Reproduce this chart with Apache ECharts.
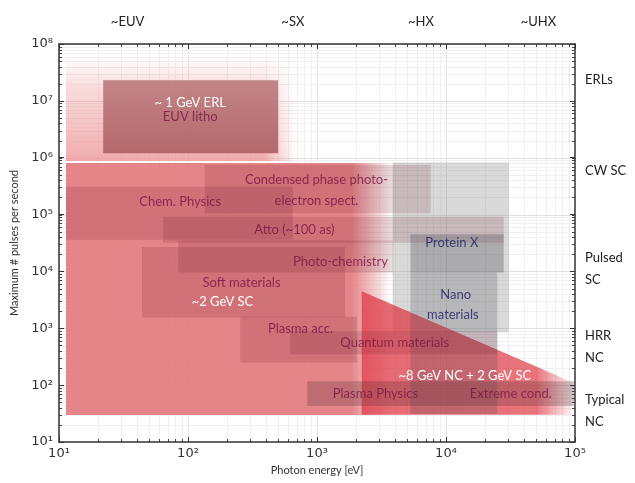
<!DOCTYPE html>
<html><head><meta charset="utf-8">
<script src="https://cdn.jsdelivr.net/npm/echarts@6/dist/echarts.min.js"></script>
<style>html,body{margin:0;padding:0;background:#fff}#c{width:635px;height:483px}</style>
</head><body><div id="c"></div>
<script>
// ---------------- data ----------------
const xTickLabels = ['10\u00b9','10\u00b2','10\u00b3','10\u2074','10\u2075'];
const yTickLabels = ['10\u00b9','10\u00b2','10\u00b3','10\u2074','10\u2075','10\u2076','10\u2077','10\u2078'];
const bandNames = ['~EUV','~SX','~HX','~UHX'];
const bandEnergy = [34, 650, 6400, 52000];
const machineNames = ['ERLs','CW SC','Pulsed\nSC','HRR\nNC','Typical\nNC'];
const machineRate = [2.3e7, 5.9e5, 1.13e4, 470, 35];

// facility envelopes (faded regions): energy range and pulse-rate range
const envNames = ['ERL envelope','SC/NC envelope'];
const envE0 = [11.3, 11.3];
const envE1 = [690, 3700];
const envR0 = [8.8e5, 30];
const envR1 = [5.2e7, 8.0e5];

// HX light band
const hxE = [3860, 30700];
const hxR = [850, 8.2e5];

// ~8 GeV NC + 2 GeV SC wedge (vertices)
const wedgeE = [2220, 100000, 100000, 2220];
const wedgeR = [4470, 108, 30, 30];

// application boxes
const boxNames = ['ERL','Condensed','Chem','Atto','PhotoChem','Protein','Soft','Nano','PlasmaAcc','Quantum','PlasmaPhys'];
const boxE0 = [22, 135, 11.3, 64, 84, 5300, 44, 5300, 255, 620, 840];
const boxE1 = [500, 7600, 650, 28000, 3900, 28000, 1650, 25000, 2050, 25000, 98000];
const boxR0 = [1.2e6, 1.05e5, 3.6e4, 3.2e4, 9.6e3, 9.6e3, 1550, 31, 250, 350, 43];
const boxR1 = [2.3e7, 7.5e5, 3.1e5, 9.2e4, 3.5e4, 4.5e4, 2.7e4, 9.6e3, 1600, 890, 117];

// text annotations
const noteText = ['~ 1 GeV ERL','EUV litho','Condensed phase photo-','electron spect.','Chem. Physics','Atto (~100 as)','Photo-chemistry','Protein X','Soft materials','~2 GeV SC','Nano','materials','Plasma acc.','Quantum materials','~8 GeV NC + 2 GeV SC','Plasma Physics','Extreme cond.'];
const noteE = [104, 104, 990, 990, 87, 668, 1520, 11100, 260, 185, 11900, 11300, 745, 4000, 14000, 2840, 31800];
const noteR = [9.2e6, 5.2e6, 4.1e5, 1.76e5, 1.7e5, 5.5e4, 1.5e4, 3.2e4, 6400, 2980, 3950, 1760, 960, 546, 144, 70, 70];
const noteKind = ['w','d','d','d','d','d','d','n','d','w','n','n','d','d','w','d','d'];

// ---------------- styles ----------------
const boxFill = {
  ERL: null,
  Protein: 'rgba(70,70,80,0.30)',
  Nano: 'rgba(70,70,80,0.22)',
  PlasmaPhys: 'rgba(90,45,55,0.28)'
};
const defaultBoxFill = 'rgba(105,20,40,0.16)';
const noteColor = {w:'#ffffff', d:'rgba(125,25,70,0.85)', n:'rgba(45,45,110,0.9)'};

function makeFade(rgb, vStops, hSolid){
  const c = document.createElement('canvas'); c.width = 256; c.height = 256;
  const g = c.getContext('2d');
  const vg = g.createLinearGradient(0,0,0,256);
  vg.addColorStop(0, 'rgba(' + rgb + ',' + vStops[0] + ')');
  vg.addColorStop(0.3, 'rgba(' + rgb + ',' + vStops[1] + ')');
  vg.addColorStop(1, 'rgba(' + rgb + ',' + vStops[2] + ')');
  g.fillStyle = vg; g.fillRect(0,0,256,256);
  g.globalCompositeOperation = 'destination-in';
  const hg = g.createLinearGradient(0,0,256,0);
  hg.addColorStop(0,'rgba(0,0,0,1)'); hg.addColorStop(hSolid,'rgba(0,0,0,1)'); hg.addColorStop(1,'rgba(0,0,0,0)');
  g.fillStyle = hg; g.fillRect(0,0,256,256);
  return c;
}
const envImages = [
  makeFade('236,140,142', [0.05, 0.32, 0.72], 0.86),
  makeFade('227,124,128', [0.93, 0.93, 0.93], 0.88)
];

function rectOf(api, e0, e1, r0, r1){
  const a = api.coord([e0, r1]), b = api.coord([e1, r0]);
  return {x:a[0], y:a[1], width:b[0]-a[0], height:b[1]-a[1]};
}

// minor grid values (axis structure)
const xGridVals = [], yGridVals = [];
for (let p = 1; p <= 4; p++) for (let k = 1; k <= 9; k++) xGridVals.push(k*Math.pow(10,p));
xGridVals.push(1e5);
for (let p = 1; p <= 7; p++) for (let k = 1; k <= 9; k++) yGridVals.push(k*Math.pow(10,p));
yGridVals.push(1e8);

const chart = echarts.init(document.getElementById('c'));
const FONT = 'Lato';

const option = {
  animation: false,
  backgroundColor: '#fff',
  grid: {left: 59, right: 60, top: 44, bottom: 41, show: false},
  xAxis: [
    {type:'log', logBase:10, min:10, max:1e5, position:'bottom', z:10,
     name:'Photon energy [eV]', nameLocation:'middle', nameGap:22,
     nameTextStyle:{fontFamily:FONT, fontSize:11, color:'#333'},
     axisLine:{lineStyle:{color:'#333', width:1.5}},
     axisTick:{inside:true, length:5, lineStyle:{color:'#333'}},
     axisLabel:{fontFamily:'DejaVu Sans', fontSize:13, color:'#333', margin:5,
       formatter: v => xTickLabels[Math.round(Math.log10(v))-1]},
     splitLine:{show:false}},
    {type:'log', logBase:10, min:10, max:1e5, position:'top', z:10,
     axisLine:{onZero:false, lineStyle:{color:'#333', width:1.5}},
     axisTick:{inside:true, length:5, lineStyle:{color:'#333'}},
     axisLabel:{show:false}, splitLine:{show:false}}
  ],
  yAxis: [
    {type:'log', logBase:10, min:10, max:1e8, position:'left', z:10,
     name:'Maximum # pulses per second', nameLocation:'middle', nameGap:38,
     nameTextStyle:{fontFamily:FONT, fontSize:11, color:'#333'},
     axisLine:{lineStyle:{color:'#333', width:1.5}},
     axisTick:{inside:true, length:5, lineStyle:{color:'#333'}},
     axisLabel:{fontFamily:'DejaVu Sans', fontSize:13, color:'#333', margin:6,
       formatter: v => yTickLabels[Math.round(Math.log10(v))-1]},
     splitLine:{show:false}},
    {type:'log', logBase:10, min:10, max:1e8, position:'right', z:10,
     axisLine:{onZero:false, lineStyle:{color:'#333', width:1.5}},
     axisTick:{inside:true, length:5, lineStyle:{color:'#333'}},
     axisLabel:{show:false}, splitLine:{show:false}}
  ],
  series: [
    // grid lines
    {type:'custom', z:1, silent:true, clip:true,
     data: xGridVals.map(v => [v, 100]),
     renderItem: (params, api) => {
       const cs = params.coordSys; const x = Math.round(api.coord([api.value(0), 100])[0]) + 0.5;
       const major = Math.abs(Math.log10(api.value(0)) % 1) < 1e-9;
       return {type:'line', shape:{x1:x, y1:cs.y, x2:x, y2:cs.y+cs.height},
         style:{stroke: major ? '#e2e2e2' : '#f0f0f0', lineWidth:1}};
     }},
    {type:'custom', z:1, silent:true, clip:true,
     data: yGridVals.map(v => [100, v]),
     renderItem: (params, api) => {
       const cs = params.coordSys; const y = Math.round(api.coord([100, api.value(1)])[1]) + 0.5;
       const major = Math.abs(Math.log10(api.value(1)) % 1) < 1e-9;
       return {type:'line', shape:{x1:cs.x, y1:y, x2:cs.x+cs.width, y2:y},
         style:{stroke: major ? '#e2e2e2' : '#f0f0f0', lineWidth:1}};
     }},
    // envelopes
    {type:'custom', z:2, silent:true, clip:true,
     data: envNames.map((n,i) => [envE0[i], envR0[i], i]),
     renderItem: (params, api) => {
       const i = params.dataIndex;
       const r = rectOf(api, envE0[i], envE1[i], envR0[i], envR1[i]);
       return {type:'image', style:{image: envImages[i], x:r.x, y:r.y, width:r.width, height:r.height}};
     }},
    // HX band
    {type:'custom', z:3, silent:true, clip:true,
     data: [[hxE[0], hxR[0]]],
     renderItem: (params, api) => ({type:'rect', shape: rectOf(api, hxE[0], hxE[1], hxR[0], hxR[1]),
       style:{fill:'rgba(140,140,140,0.33)'}})},
    // wedge
    {type:'custom', z:3, silent:true, clip:true,
     data: [[wedgeE[0], wedgeR[0]]],
     renderItem: (params, api) => ({type:'polygon',
       shape:{points: wedgeE.map((e,i) => api.coord([e, wedgeR[i]]))},
       style:{fill: new echarts.graphic.LinearGradient(0,0,1,0,[
         {offset:0, color:'rgba(222,58,70,0.76)'},
         {offset:0.82, color:'rgba(222,58,70,0.70)'},
         {offset:1, color:'rgba(222,58,70,0)'}])}})},
    // application boxes
    {type:'custom', z:4, silent:true, clip:true,
     data: boxNames.map((n,i) => [boxE0[i], boxR0[i], i]),
     renderItem: (params, api) => {
       const i = params.dataIndex; const n = boxNames[i];
       let fill = boxFill.hasOwnProperty(n) ? boxFill[n] : defaultBoxFill;
       if (n === 'ERL') fill = new echarts.graphic.LinearGradient(0,0,0,1,[
         {offset:0, color:'rgba(192,128,130,0.95)'}, {offset:1, color:'rgba(178,102,106,0.97)'}]);
       return {type:'rect', shape: rectOf(api, boxE0[i], boxE1[i], boxR0[i], boxR1[i]), style:{fill}};
     }},
    // notes
    {type:'custom', z:6, silent:true, clip:false,
     data: noteText.map((t,i) => [noteE[i], noteR[i], i]),
     renderItem: (params, api) => {
       const i = params.dataIndex; const p = api.coord([noteE[i], noteR[i]]);
       return {type:'text', x:p[0], y:p[1], style:{text: noteText[i], fill: noteColor[noteKind[i]],
         font: '13px ' + FONT, align:'center', verticalAlign:'middle'}};
     }},
    // band labels on top
    {type:'custom', z:6, silent:true, clip:false,
     data: bandNames.map((t,i) => [bandEnergy[i], 1e8, i]),
     renderItem: (params, api) => {
       const i = params.dataIndex; const p = api.coord([bandEnergy[i], 1e8]);
       return {type:'text', x:p[0], y:p[1]-22, style:{text: bandNames[i], fill:'#222',
         font: '13px ' + FONT, align:'center', verticalAlign:'middle'}};
     }},
    // machine labels on right
    {type:'custom', z:6, silent:true, clip:false,
     data: machineNames.map((t,i) => [1e5, machineRate[i], i]),
     renderItem: (params, api) => {
       const i = params.dataIndex; const p = api.coord([1e5, machineRate[i]]);
       return {type:'text', x:p[0]+10, y:p[1], style:{text: machineNames[i], fill:'#222',
         font: '13px ' + FONT, align:'left', verticalAlign:'middle', lineHeight:22}};
     }},
    // minor ticks
    {type:'custom', z:9, silent:true, clip:false,
     data: xGridVals.map(v => [v, 100]),
     renderItem: (params, api) => {
       const cs = params.coordSys; const x = Math.round(api.coord([api.value(0), 100])[0]) + 0.5;
       return {type:'group', children:[
         {type:'line', shape:{x1:x, y1:cs.y+cs.height, x2:x, y2:cs.y+cs.height-3}, style:{stroke:'#444', lineWidth:1}},
         {type:'line', shape:{x1:x, y1:cs.y, x2:x, y2:cs.y+3}, style:{stroke:'#444', lineWidth:1}}]};
     }},
    {type:'custom', z:9, silent:true, clip:false,
     data: yGridVals.map(v => [100, v]),
     renderItem: (params, api) => {
       const cs = params.coordSys; const y = Math.round(api.coord([100, api.value(1)])[1]) + 0.5;
       return {type:'group', children:[
         {type:'line', shape:{x1:cs.x, y1:y, x2:cs.x+3, y2:y}, style:{stroke:'#444', lineWidth:1}},
         {type:'line', shape:{x1:cs.x+cs.width, y1:y, x2:cs.x+cs.width-3, y2:y}, style:{stroke:'#444', lineWidth:1}}]};
     }}
  ]
};
chart.setOption(option);
</script></body></html>
